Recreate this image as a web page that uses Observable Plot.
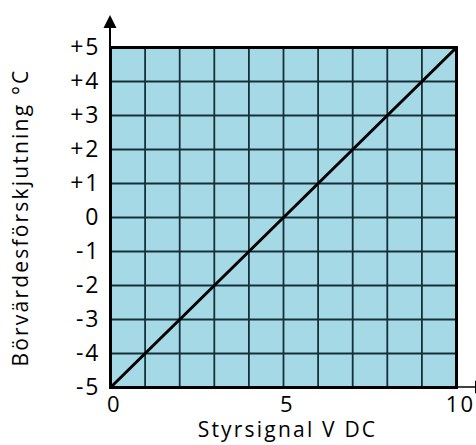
<!DOCTYPE html>
<html>
<head>
<meta charset="utf-8">
<script src="https://cdn.jsdelivr.net/npm/d3@7"></script>
<script src="https://cdn.jsdelivr.net/npm/@observablehq/plot@0.6"></script>
<style>
  html, body { margin: 0; padding: 0; background: #fff; }
  svg { display: block; }
  #chart svg text { letter-spacing: 2.2px; }
  #chart svg g[aria-label="y-axis tick label"] { font-size: 23px; }
  #chart svg g[aria-label="y-axis tick label"] text { letter-spacing: 2px; }
  #chart svg g[aria-label="x-axis tick label"] { font-size: 22px; }
</style>
</head>
<body>
<div id="chart"></div>
<script>
// Data
const signalV = [0, 10];          // Styrsignal V DC
const offsetC = [-5, 5];          // Börvärdesförskjutning °C
const xTickValues = [0, 5, 10];
const yTickValues = [-5, -4, -3, -2, -1, 0, 1, 2, 3, 4, 5];
const xGridValues = [0, 1, 2, 3, 4, 5, 6, 7, 8, 9, 10];
const yGridValues = [-5, -4, -3, -2, -1, 0, 1, 2, 3, 4, 5];
const xLabel = "Styrsignal V DC";
const yLabel = "Börvärdesförskjutning °C";

const lineData = signalV.map((v, i) => ({x: v, y: offsetC[i]}));
const fmtY = d => d > 0 ? "+" + d : String(d);

const font = "'Open Sans', 'Noto Sans', sans-serif";

// axis arrows drawn from scale positions
function axisArrows(index, scales, values, dims) {
  const ns = "http://www.w3.org/2000/svg";
  const g = document.createElementNS(ns, "g");
  const x0 = scales.x(signalV[0]);
  const x1 = scales.x(signalV[1]);
  const y0 = scales.y(offsetC[0]);
  const y1 = scales.y(offsetC[1]);
  const mk = (tag, attrs) => {
    const e = document.createElementNS(ns, tag);
    for (const k in attrs) e.setAttribute(k, attrs[k]);
    g.appendChild(e);
    return e;
  };
  mk("line", {x1: x0, x2: x0, y1: y1, y2: y1 - 22, stroke: "black", "stroke-width": 2});
  mk("path", {d: `M${x0},${y1 - 32}L${x0 - 6.5},${y1 - 19}L${x0 + 6.5},${y1 - 19}Z`, fill: "black"});
  mk("line", {x1: x1, x2: x1 + 22, y1: y0, y2: y0, stroke: "black", "stroke-width": 1.5});
  mk("path", {d: `M${x1 + 32},${y0}L${x1 + 19},${y0 - 6.5}L${x1 + 19},${y0 + 6.5}Z`, fill: "black"});
  return g;
}

const chart = Plot.plot({
  width: 476,
  height: 445,
  marginLeft: 110,
  marginRight: 20,
  marginTop: 47,
  marginBottom: 58,
  style: {fontFamily: font, background: "white", overflow: "visible"},
  x: {domain: [0, 10], axis: null},
  y: {domain: [-5, 5], axis: null},
  marks: [
    Plot.frame({fill: "#a6d9e6", stroke: null}),
    Plot.gridX(xGridValues, {stroke: "#16303a", strokeOpacity: 1, strokeWidth: 1.8}),
    Plot.gridY(yGridValues, {stroke: "#16303a", strokeOpacity: 1, strokeWidth: 1.8}),
    Plot.line(lineData, {x: "x", y: "y", stroke: "black", strokeWidth: 3}),
    Plot.frame({stroke: "black", strokeWidth: 3}),
    axisArrows,
    Plot.axisY(yTickValues, {tickSize: 0, tickPadding: 10, tickFormat: fmtY, fontSize: 23, fill: "black", label: null}),
    Plot.axisX(xTickValues, {tickSize: 0, tickPadding: 9, fontSize: 22, fill: "black", dx: 4, label: null}),
    Plot.text([xLabel], {frameAnchor: "bottom", dy: 49, dx: 4, fontSize: 21, fill: "black", text: d => d}),
    Plot.text([yLabel], {frameAnchor: "left", textAnchor: "middle", rotate: -90, dx: -89, fontSize: 21, fill: "black", text: d => d})
  ]
});
document.getElementById("chart").appendChild(chart);
</script>
</body>
</html>
